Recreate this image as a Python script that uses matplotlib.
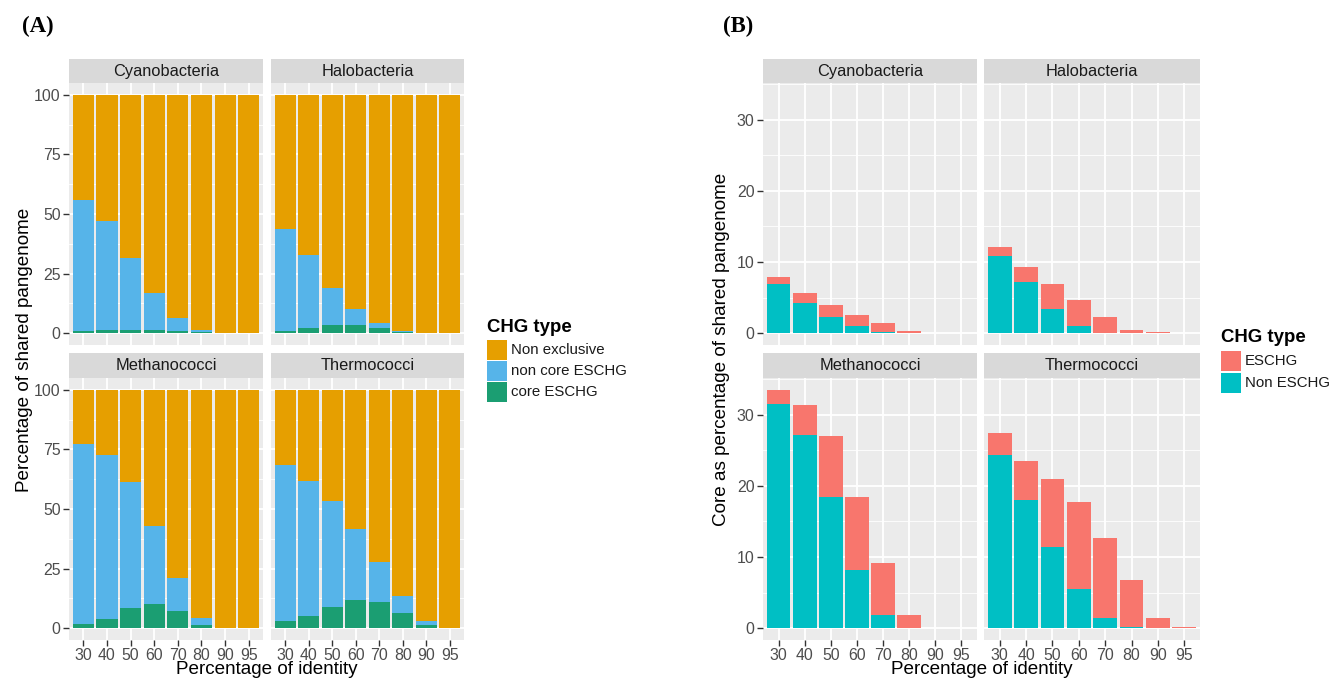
import matplotlib
matplotlib.use("Agg")
import matplotlib.pyplot as plt
from matplotlib.patches import Rectangle
import numpy as np

plt.rcParams['font.family'] = ['Liberation Sans', 'DejaVu Sans']

W, H = 1331, 682

identity = ["30", "40", "50", "60", "70", "80", "90", "95"]
facets = ["Cyanobacteria", "Halobacteria", "Methanococci", "Thermococci"]

# Panel A: percentage of shared pangenome (stack: core ESCHG, non core ESCHG, Non exclusive)
a_core = {
    "Cyanobacteria": [1.0, 1.1, 1.5, 1.5, 1.0, 0.3, 0.0, 0.0],
    "Halobacteria":  [1.0, 2.0, 3.4, 3.6, 2.0, 0.3, 0.0, 0.0],
    "Methanococci":  [1.7, 3.9, 8.5, 10.0, 7.0, 1.5, 0.0, 0.0],
    "Thermococci":   [3.1, 5.2, 9.0, 12.0, 11.0, 6.2, 1.3, 0.0],
}
a_noncore = {
    "Cyanobacteria": [54.8, 46.0, 30.0, 15.4, 5.3, 1.0, 0.0, 0.0],
    "Halobacteria":  [42.5, 30.9, 15.6, 6.5, 2.4, 0.7, 0.0, 0.0],
    "Methanococci":  [75.8, 68.6, 52.9, 32.8, 14.1, 2.7, 0.0, 0.0],
    "Thermococci":   [65.2, 56.5, 44.2, 29.5, 16.7, 7.3, 1.5, 0.2],
}
a_nonexcl = {
    "Cyanobacteria": [44.2, 52.9, 68.5, 83.1, 93.7, 98.7, 100.0, 100.0],
    "Halobacteria":  [56.5, 67.1, 81.0, 89.9, 95.6, 99.0, 100.0, 100.0],
    "Methanococci":  [22.5, 27.5, 38.6, 57.2, 78.9, 95.8, 100.0, 100.0],
    "Thermococci":   [31.7, 38.3, 46.8, 58.5, 72.3, 86.5, 97.2, 99.8],
}
a_labels = ["Non exclusive", "non core ESCHG", "core ESCHG"]
a_colors = ["#E69F00", "#56B4E9", "#1B9E72"]

# Panel B: core as percentage of shared pangenome (stack: Non ESCHG, ESCHG)
b_non = {
    "Cyanobacteria": [6.85, 4.3, 2.3, 0.94, 0.2, 0.0, 0.0, 0.0],
    "Halobacteria":  [10.85, 7.2, 3.4, 0.94, 0.0, 0.0, 0.0, 0.0],
    "Methanococci":  [31.5, 27.1, 18.5, 8.2, 1.8, 0.0, 0.0, 0.0],
    "Thermococci":   [24.3, 18.0, 11.4, 5.5, 1.4, 0.15, 0.0, 0.0],
}
b_esc = {
    "Cyanobacteria": [1.05, 1.4, 1.6, 1.66, 1.2, 0.33, 0.0, 0.0],
    "Halobacteria":  [1.25, 2.1, 3.5, 3.76, 2.25, 0.5, 0.1, 0.0],
    "Methanococci":  [2.0, 4.3, 8.5, 10.3, 7.4, 1.9, 0.0, 0.0],
    "Thermococci":   [3.2, 5.5, 9.5, 12.3, 11.3, 6.55, 1.4, 0.2],
}
b_labels = ["ESCHG", "Non ESCHG"]
b_colors = ["#F8766D", "#00BFC4"]

BG = "#EBEBEB"
STRIP = "#D9D9D9"
TICKC = "#4D4D4D"

fig = plt.figure(figsize=(W / 100, H / 100), dpi=100)


def rect(x0, y0, x1, y1):
    return [x0 / W, 1 - y1 / H, (x1 - x0) / W, (y1 - y0) / H]


def ftext(x, y, s, **kw):
    fig.text(x / W, 1 - y / H, s, **kw)


def make_facet(x0, x1, st, pt, pb, title, ylim, ymajor, yminor, show_y, show_x):
    ax = fig.add_axes(rect(x0, pt, x1, pb))
    ax.set_facecolor(BG)
    for s in ax.spines.values():
        s.set_visible(False)
    ax.set_xlim(-0.6, 7.6)
    ax.set_ylim(*ylim)
    ax.set_yticks(ymajor)
    ax.set_yticks(yminor, minor=True)
    ax.set_xticks(np.arange(len(identity)))
    ax.set_xticklabels(identity if show_x else [])
    ax.grid(True, which="major", color="white", linewidth=1.3)
    ax.grid(True, which="minor", axis="y", color="white", linewidth=0.6)
    ax.set_axisbelow(True)
    ax.tick_params(which="minor", length=0)
    ax.tick_params(axis="both", which="major", color="#333333", length=4, width=1,
                   labelsize=11.4, labelcolor=TICKC, pad=2)
    if not show_y:
        ax.tick_params(axis="y", which="major", length=0, labelleft=False)
    if not show_x:
        ax.tick_params(axis="x", which="major", length=0, labelbottom=False)
    fig.add_artist(Rectangle((x0 / W, 1 - pt / H), (x1 - x0) / W, (pt - st) / H,
                             transform=fig.transFigure, facecolor=STRIP, edgecolor="none"))
    ftext((x0 + x1) / 2, (st + pt) / 2 + 0.5, title, ha="center", va="center",
          fontsize=11.8, color="#1A1A1A")
    return ax


rows = [(59, 83, 345), (353, 378, 640)]
colsA = [(69, 263), (271, 464)]
colsB = [(763, 977), (984, 1200)]
x = np.arange(len(identity))

for i, name in enumerate(facets):
    r, c = divmod(i, 2)
    st, pt, pb = rows[r]
    # Panel A
    ax = make_facet(colsA[c][0], colsA[c][1], st, pt, pb, name, (-5, 105),
                    [0, 25, 50, 75, 100], [12.5, 37.5, 62.5, 87.5],
                    show_y=(c == 0), show_x=(r == 1))
    core = np.array(a_core[name])
    nonc = np.array(a_noncore[name])
    nonx = np.array(a_nonexcl[name])
    ax.bar(x, core, width=0.9, color=a_colors[2], linewidth=0)
    ax.bar(x, nonc, width=0.9, bottom=core, color=a_colors[1], linewidth=0)
    ax.bar(x, nonx, width=0.9, bottom=core + nonc, color=a_colors[0], linewidth=0)
    if c == 0:
        ax.set_yticklabels(["0", "25", "50", "75", "100"])

    # Panel B
    ax = make_facet(colsB[c][0], colsB[c][1], st, pt, pb, name, (-1.675, 35.175),
                    [0, 10, 20, 30], [5, 15, 25, 35],
                    show_y=(c == 0), show_x=(r == 1))
    nb = np.array(b_non[name])
    eb = np.array(b_esc[name])
    ax.bar(x, nb, width=0.9, color=b_colors[1], linewidth=0)
    ax.bar(x, eb, width=0.9, bottom=nb, color=b_colors[0], linewidth=0)

# axis titles
ftext(266.5, 670, "Percentage of identity", ha="center", va="center", fontsize=13.6, color="black")
ftext(981.5, 670, "Percentage of identity", ha="center", va="center", fontsize=13.6, color="black")
ftext(25, 349.5, "Percentage of shared pangenome", ha="center", va="center",
      rotation=90, fontsize=13.6, color="black")
ftext(722, 349.5, "Core as percentage of shared pangenome", ha="center", va="center",
      rotation=90, fontsize=13.6, color="black")

# panel labels
ftext(22, 26, "(A)", ha="left", va="center", fontsize=16.5, fontweight="bold",
      family=["Liberation Serif", "DejaVu Serif"])
ftext(723, 26, "(B)", ha="left", va="center", fontsize=16.5, fontweight="bold",
      family=["Liberation Serif", "DejaVu Serif"])


def legend(xk, ytitle, ykeys, labels, colors):
    ftext(xk, ytitle, "CHG type", ha="left", va="center", fontsize=13.4,
          fontweight="bold", color="black")
    for yk, lab, col in zip(ykeys, labels, colors):
        fig.add_artist(Rectangle((xk / W, 1 - (yk + 20) / H), 20 / W, 20 / H,
                                 transform=fig.transFigure, facecolor=col, edgecolor="none"))
        ftext(xk + 24, yk + 10, lab, ha="left", va="center", fontsize=10.8, color="#1A1A1A")


legend(487, 328, [340, 361, 382], a_labels, a_colors)
legend(1221, 338, [351, 373], b_labels, b_colors)

fig.savefig("out.png", dpi=100)
